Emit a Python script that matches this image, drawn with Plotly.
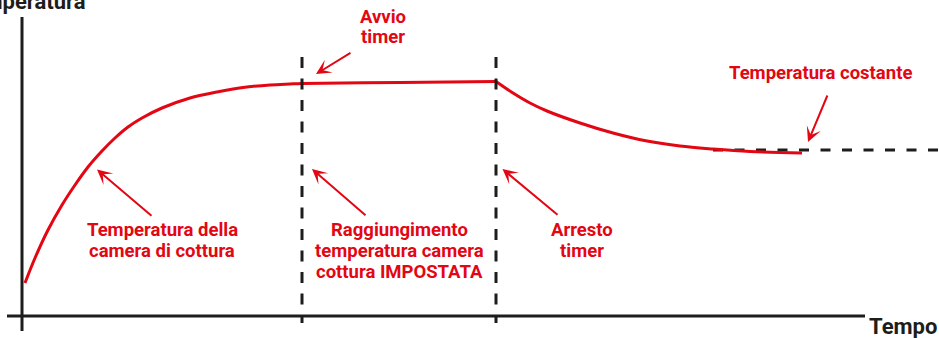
import plotly.graph_objects as go

# ---- data (time and temperature in arbitrary units) ----
heat_time = [3, 13, 26, 40, 53, 66, 80, 93, 106, 120, 140, 168, 195, 221, 248, 268, 280, 378, 474]
heat_temp = [33, 58, 86, 111, 131, 149, 165, 178, 189, 198, 208, 218, 224, 228.5, 231, 232, 232.5, 233.5, 234.5]
cool_time = [474, 491, 508, 525, 558, 591, 625, 658, 691, 728, 780]
cool_temp = [234.5, 223, 213, 205, 193, 183, 175, 170, 167, 164.5, 163]

timer_start = 280
timer_stop = 474
steady_temp = 166

labels_avvio = ["Avvio", "timer"]
labels_costante = ["Temperatura costante"]
labels_camera = ["Temperatura della", "camera di cottura"]
labels_raggiung = ["Raggiungimento", "temperatura camera", "cottura IMPOSTATA"]
labels_arresto = ["Arresto", "timer"]
y_title = "Temperatura"
x_title = "Tempo"

RED = "#e30613"
BLACK = "#1d1d1b"
FONT = "Roboto"

fig = go.Figure()
fig.add_trace(go.Scatter(x=heat_time, y=heat_temp, mode="lines",
                         line=dict(color=RED, width=3, shape="spline", smoothing=1.0),
                         hoverinfo="skip", showlegend=False))
fig.add_trace(go.Scatter(x=cool_time, y=cool_temp, mode="lines",
                         line=dict(color=RED, width=3, shape="spline", smoothing=1.0),
                         hoverinfo="skip", showlegend=False))

shapes = [
    dict(type="line", x0=0, x1=0, y0=299, y1=-15, line=dict(color=BLACK, width=3)),
    dict(type="line", x0=-15, x1=843, y0=0, y1=0, line=dict(color=BLACK, width=3)),
    dict(type="line", x0=timer_start, x1=timer_start, y0=259, y1=-7,
         line=dict(color=BLACK, width=3, dash="11px,10.5px")),
    dict(type="line", x0=timer_stop, x1=timer_stop, y0=259, y1=-7,
         line=dict(color=BLACK, width=3, dash="11px,10.5px")),
    dict(type="line", x0=691, x1=917, y0=steady_temp, y1=steady_temp, layer="below",
         line=dict(color=BLACK, width=3, dash="10px,11.5px")),
]

lab_font = dict(family=FONT, size=18.5, color=RED, weight=700)
annotations = []

def label(lines, x, y_first, step=21):
    for i, t in enumerate(lines):
        annotations.append(dict(text=t, x=x, y=y_first - i * step, xref="x", yref="y",
                                showarrow=False, xanchor="center", yanchor="middle",
                                font=lab_font))

def arrow(hx, hy, tx, ty):
    annotations.append(dict(text="", x=hx, y=hy, ax=tx, ay=ty, xref="x", yref="y",
                            axref="x", ayref="y", showarrow=True, arrowhead=3,
                            arrowsize=1.25, arrowwidth=2, arrowcolor=RED, standoff=0))

label(labels_avvio, 361, 299, 20)
arrow(294, 242, 330, 264)
label(labels_costante, 798, 243)
arrow(786, 174, 806, 222)
label(labels_camera, 140, 86)
arrow(75, 146.5, 131, 99)
label(labels_raggiung, 377, 86)
arrow(290, 147, 345, 99.5)
label(labels_arresto, 560, 86)
arrow(480.5, 147, 537, 100)

ax_font = dict(family=FONT, size=22, color=BLACK, weight=700)
annotations.append(dict(text=y_title, x=88 / 939, y=1 - 1.5 / 338, xref="paper", yref="paper",
                        showarrow=False, xanchor="right", yanchor="middle", font=ax_font))
annotations.append(dict(text=x_title, x=939 / 939, y=1 - 326 / 338, xref="paper", yref="paper",
                        showarrow=False, xanchor="right", yanchor="middle", font=ax_font))

fig.update_layout(
    width=939, height=338, autosize=False,
    margin=dict(l=0, r=0, t=0, b=0),
    paper_bgcolor="white", plot_bgcolor="white",
    xaxis=dict(range=[-22, 917], visible=False, fixedrange=True),
    yaxis=dict(range=[-22, 316], visible=False, fixedrange=True),
    shapes=shapes, annotations=annotations, showlegend=False,
)

fig.write_html("out.html", config={"displayModeBar": False},
               post_script="document.body.style.margin='0px';document.body.style.overflow='hidden';")
